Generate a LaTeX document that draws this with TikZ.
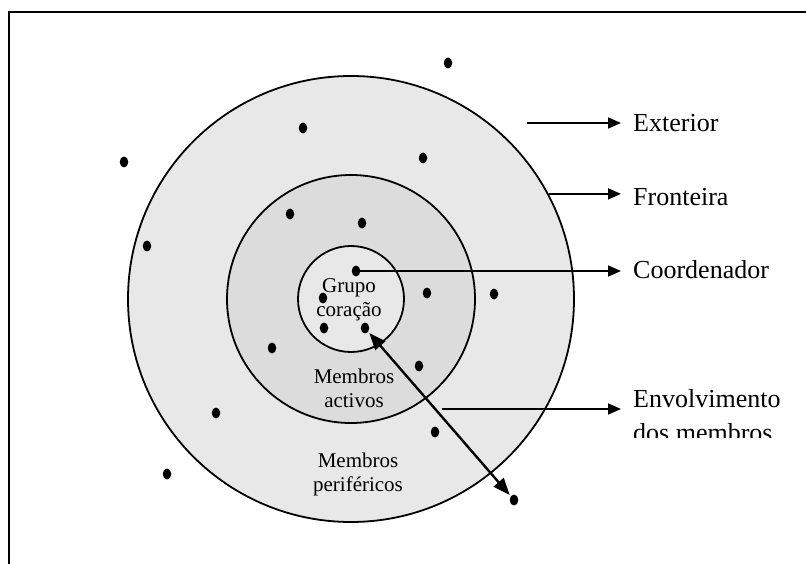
\documentclass[tikz,border=0pt]{standalone}
\usepackage{fontspec}
\setmainfont{Liberation Serif}
\usetikzlibrary{arrows.meta,shapes.geometric}

\definecolor{zonelight}{RGB}{232,232,232}
\definecolor{zonemid}{RGB}{220,220,220}

\begin{document}
\begin{tikzpicture}[x=1pt,y=-1pt,
  ring/.style={circle, draw=black, line width=1.8pt, inner sep=0pt},
  member/.style={ellipse, fill=black, inner sep=0pt, minimum width=8.5pt, minimum height=11pt},
  pointer/.style={line width=1.6pt, -{Triangle[length=13pt,width=11pt]}},
  twoway/.style={line width=2.4pt, {Triangle[length=17pt,width=13pt]}-{Triangle[length=17pt,width=13pt]}},
  caption/.style={anchor=base west, inner sep=0pt, font=\fontsize{26}{30}\selectfont},
  zone/.style={align=center, inner sep=0pt, font=\fontsize{21}{24}\selectfont}
]
\useasboundingbox (0,0) rectangle (806,564);
\clip (0,0) rectangle (806,564);

% frame
\draw[line width=1.8pt] (9,580) -- (9,12) -- (820,12);

% concentric zones
\node[ring, fill=zonelight, minimum size=446pt] (outer) at (351,299) {};
\node[ring, fill=zonemid,   minimum size=248pt] (middle) at (351,299) {};
\node[ring, fill=zonelight, minimum size=106pt] (inner) at (351,299) {};

% zone labels
\node[zone] (core)   at (349,300) {Grupo\\coração};
\node[zone] (active) at (354,388) {Membros\\activos};
\node[zone] (periph) at (358,474) {Membros\\periféricos};

% members
\foreach \n/\px/\py in {1/448/63, 2/303/128, 3/423/158, 4/124/162, 5/290/214,
  6/362/223, 7/147/246, 8/356/271, 9/323/298, 10/427/293, 11/494/294,
  12/324/328, 13/365/328, 14/272/348, 15/419/366, 16/216/413, 17/435/432,
  18/167/474, 19/514/500}
  \node[member] (d\n) at (\px,\py) {};

% captions on the right
\node[caption] (ext) at (633,131.5) {Exterior};
\node[caption] (fro) at (633,206)   {Fronteira};
\node[caption] (coo) at (633,278.5) {Coordenador};
\node[caption] (env) at (633,407)   {Envolvimento};
\begin{scope}
  \clip (0,0) rectangle (806,437);
  \node[caption] (envb) at (633,441) {dos membros};
\end{scope}

% pointers
\coordinate (extS) at (527,123);
\coordinate (envS) at (442,409);
\draw[pointer] (extS) -- ([xshift=-12pt]ext.west |- extS);
\draw[pointer] (outer.28.1) -- ([xshift=-12pt]fro.west |- outer.28.1);
\draw[pointer] (d8.center) -- ([xshift=-12pt]coo.west |- d8.center);
\draw[pointer] (envS) -- ([xshift=-12pt]env.west |- envS);

% two-way arrow between core and periphery
\draw[twoway, shorten <=1.5pt, shorten >=1.5pt] (d13) -- (d19);
\end{tikzpicture}
\end{document}
